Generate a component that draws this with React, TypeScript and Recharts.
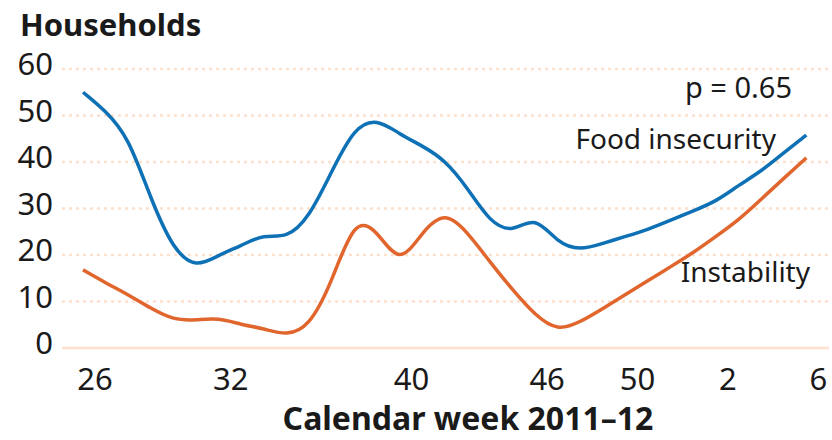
import React from "react";
import { LineChart, Line, XAxis, YAxis, CartesianGrid } from "recharts";

// Calendar weeks 2011-12 (one point per week)
const weeks = [26, 27, 28, 29, 30, 31, 32, 33, 34, 35, 36, 37, 38, 39, 40, 41, 42, 43, 44, 45, 46, 47, 48, 49, 50, 51, 52, 1, 2, 3, 4, 5, 6];
const foodInsecurity = [55, 51, 45.5, 32, 21, 17.2, 20, 22, 24.5, 23.5, 28, 38, 47.5, 49.4, 46, 43.5, 40.5, 34.5, 27, 24.75, 28.6, 22.5, 21, 22.5, 24, 25.5, 27.5, 29.5, 31.5, 35, 38, 42, 45.8];
const instability = [16.8, 14, 11.5, 8.5, 6, 6, 6.5, 5, 4.2, 2.65, 4.5, 14, 28, 25.5, 17.5, 25, 29.5, 25, 18.5, 12.5, 7, 3.6, 5.6, 8.5, 11.5, 14.5, 17.5, 20.5, 24, 27.5, 32, 36.5, 40.9];
const tickWeeks = [26, 32, 40, 46, 50, 2, 6];
const yTicks = [0, 10, 20, 30, 40, 50, 60];

const data = weeks.map((w, i) => ({ i, week: w, food: foodInsecurity[i], instab: instability[i] }));
const xTickIdx = tickWeeks.map((w) => weeks.indexOf(w));

const FONT = "'Noto Sans', sans-serif";
const TEXT = "#1a1a1a";
const BLUE = "#0f71b5";
const ORANGE = "#e0662e";
const GRID = "#fde1cc";

const XTick = (props: any) => {
  const { x, y, payload } = props;
  return (
    <text x={x + 12} y={y + 42} textAnchor="middle" fill={TEXT} fontFamily={FONT} fontSize={31}>
      {weeks[payload.value]}
    </text>
  );
};

const YTick = (props: any) => {
  const { x, y, payload } = props;
  return (
    <text x={x} y={y + 6} textAnchor="end" fill={TEXT} fontFamily={FONT} fontSize={31}>
      {payload.value}
    </text>
  );
};

export default function App() {
  return (
    <div style={{ position: "absolute", left: 0, top: 0, width: 832, height: 440, background: "#fff" }}>
      <LineChart width={832} height={440} data={data} margin={{ top: 69, right: 3, bottom: 0, left: 0 }}>
        <CartesianGrid
          vertical={false}
          stroke={GRID}
          strokeWidth={2.5}
          strokeDasharray="3 4"
          horizontalValues={[10, 20, 30, 40, 50, 60]}
        />
        <XAxis
          type="number"
          dataKey="i"
          domain={[-0.93, 33]}
          allowDataOverflow
          ticks={xTickIdx}
          interval={0}
          tick={<XTick />}
          tickLine={false}
          tickSize={0}
          tickMargin={0}
          axisLine={{ stroke: GRID, strokeWidth: 2.5 }}
          height={92}
        />
        <YAxis
          type="number"
          domain={[0, 60]}
          ticks={yTicks}
          interval={0}
          tick={<YTick />}
          tickLine={false}
          tickSize={0}
          tickMargin={9}
          axisLine={false}
          width={62}
        />
        <Line type="basis" dataKey="instab" stroke={ORANGE} strokeWidth={3.5} dot={false} isAnimationActive={false} />
        <Line type="basis" dataKey="food" stroke={BLUE} strokeWidth={3.5} dot={false} isAnimationActive={false} />
      </LineChart>
      <svg width={832} height={440} style={{ position: "absolute", left: 0, top: 0, pointerEvents: "none" }}>
        <text x={20} y={36} fill={TEXT} fontFamily={FONT} fontSize={31} fontWeight={700}>Households</text>
        <text x={792} y={98} textAnchor="end" fill={TEXT} fontFamily={FONT} fontSize={29}>p = 0.65</text>
        <text x={776} y={149} textAnchor="end" fill={TEXT} fontFamily={FONT} fontSize={28}>Food insecurity</text>
        <text x={810} y={282} textAnchor="end" fill={TEXT} fontFamily={FONT} fontSize={28}>Instability</text>
        <text x={468} y={430} textAnchor="middle" fill={TEXT} fontFamily={FONT} fontSize={32} fontWeight={700}>Calendar week 2011–12</text>
      </svg>
    </div>
  );
}
